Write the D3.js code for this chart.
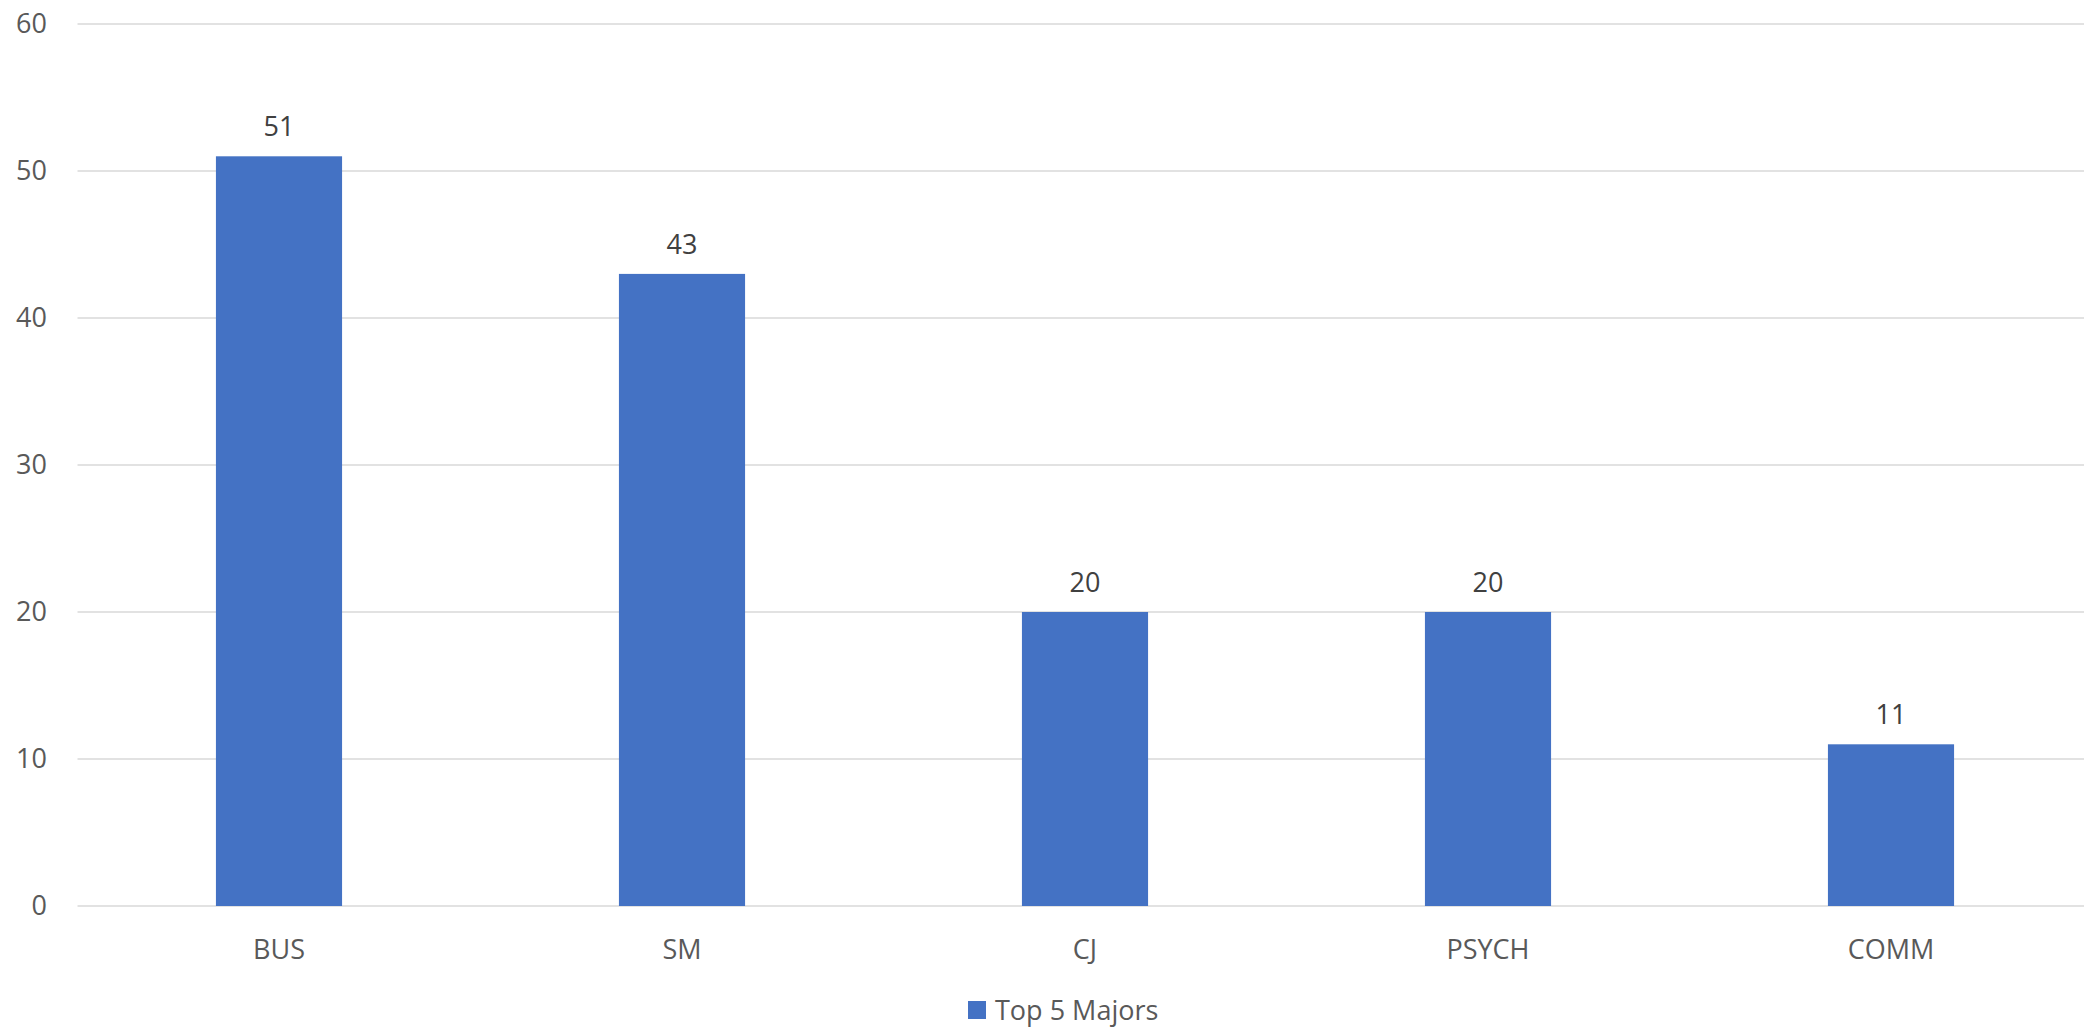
<!DOCTYPE html>
<html>
<head>
<meta charset="utf-8">
<script src="https://cdn.jsdelivr.net/npm/d3@7"></script>
<style>
  body { margin: 0; background: #fff; }
  text { font-family: "Open Sans", "Noto Sans", sans-serif; }
</style>
</head>
<body>
<div id="chart"></div>
<script>
var majors = ["BUS", "SM", "CJ", "PSYCH", "COMM"];
var counts = [51, 43, 20, 20, 11];
var yTicks = [0, 10, 20, 30, 40, 50, 60];
var seriesName = "Top 5 Majors";

var width = 2084, height = 1029;
var plotLeft = 77.5, plotRight = 2092.5, plotTop = 24, plotBottom = 906;

var svg = d3.select("#chart")
    .append("svg")
    .attr("width", width)
    .attr("height", height);

var x = d3.scaleBand()
    .domain(majors)
    .range([plotLeft, plotRight])
    .paddingInner(0.687)
    .paddingOuter(0.3435);

var y = d3.scaleLinear()
    .domain([0, 60])
    .range([plotBottom, plotTop]);

// gridlines
svg.selectAll(".grid")
    .data(yTicks)
    .enter()
    .append("line")
    .attr("x1", plotLeft)
    .attr("x2", plotRight)
    .attr("y1", function (d) { return y(d); })
    .attr("y2", function (d) { return y(d); })
    .attr("stroke", "#d9d9d9")
    .attr("stroke-width", 1.5);

// y tick labels
svg.selectAll(".ytick")
    .data(yTicks)
    .enter()
    .append("text")
    .attr("x", 47)
    .attr("y", function (d) { return y(d); })
    .attr("dy", "0.34em")
    .attr("text-anchor", "end")
    .attr("font-size", 27)
    .attr("fill", "#595959")
    .text(function (d) { return d; });

var data = majors.map(function (m, i) { return { major: m, value: counts[i] }; });

svg.selectAll(".bar")
    .data(data)
    .enter()
    .append("rect")
    .attr("x", function (d) { return x(d.major); })
    .attr("width", x.bandwidth())
    .attr("y", function (d) { return y(d.value); })
    .attr("height", function (d) { return y(0) - y(d.value); })
    .attr("fill", "#4472C4");

// value labels
svg.selectAll(".val")
    .data(data)
    .enter()
    .append("text")
    .attr("x", function (d) { return x(d.major) + x.bandwidth() / 2; })
    .attr("y", function (d) { return y(d.value) - 20; })
    .attr("text-anchor", "middle")
    .attr("font-size", 27)
    .attr("fill", "#404040")
    .text(function (d) { return d.value; });

// category labels
svg.selectAll(".cat")
    .data(majors)
    .enter()
    .append("text")
    .attr("x", function (d) { return x(d) + x.bandwidth() / 2; })
    .attr("y", plotBottom + 53)
    .attr("text-anchor", "middle")
    .attr("font-size", 27)
    .attr("fill", "#595959")
    .text(function (d) { return d; });

// legend
var legend = svg.append("g");
legend.append("rect")
    .attr("x", 968)
    .attr("y", 1001)
    .attr("width", 18)
    .attr("height", 18)
    .attr("fill", "#4472C4");
legend.append("text")
    .attr("x", 995)
    .attr("y", 1020)
    .attr("font-size", 27)
    .attr("fill", "#595959")
    .text(seriesName);
</script>
</body>
</html>
